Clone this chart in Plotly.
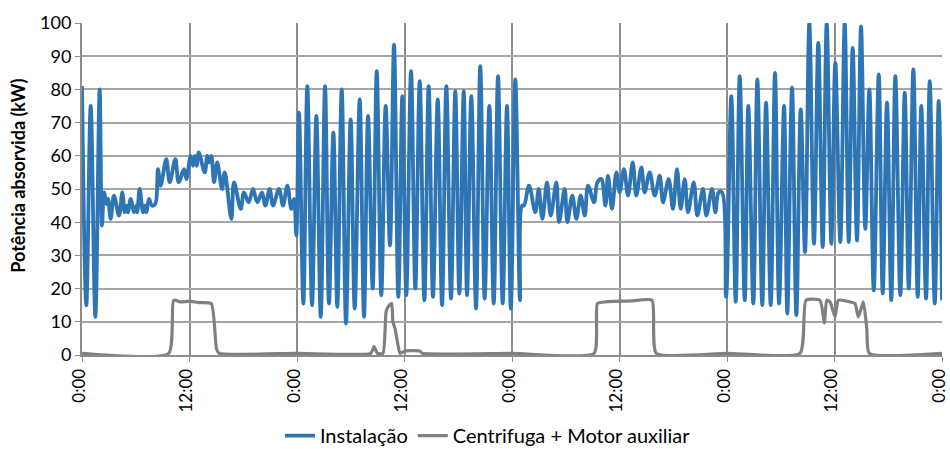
import plotly.graph_objects as go

# Instalação: time (hours since start) and power (kW) at turning points
inst_t = [0.00, 0.48, 0.97, 1.49, 1.97, 2.23, 2.46, 2.72, 2.90, 3.20, 3.57, 4.13, 4.50, 4.76, 4.95,
          5.13, 5.43, 5.80, 6.06, 6.17, 6.44, 6.81, 7.00, 7.18, 7.48, 7.81, 8.18, 8.48, 8.78, 9.41,
          9.79, 10.42, 10.79, 11.39, 11.65, 12.13, 12.39, 12.58, 12.80, 13.03, 13.70, 13.99, 14.21,
          14.44, 14.74, 15.10, 15.63, 15.93, 16.67, 16.97, 17.72, 18.08, 18.61, 19.09, 19.57, 20.09,
          20.46, 20.95, 21.32, 21.99, 22.44, 22.92, 23.37, 23.67, 23.92,
          24.22, 24.71, 25.15, 25.68, 26.16, 26.65, 27.13, 27.57, 28.06, 28.50, 28.99, 29.47, 29.99,
          30.44, 31.00, 31.48, 31.93, 32.45, 32.90, 33.41, 33.90, 34.38, 34.83, 35.31, 35.76, 36.20,
          36.73, 37.21, 37.70, 38.22, 38.70, 39.18, 39.71, 40.19, 40.67, 41.19, 41.67, 42.12, 42.61,
          42.98, 43.46, 43.98, 44.46, 44.95, 45.47, 45.96, 46.44, 46.96, 47.44, 47.87,
          48.37, 48.89, 49.12, 49.34, 49.90, 50.60, 50.98, 51.39, 51.91, 52.32, 52.95, 53.25, 53.88,
          54.18, 54.73, 55.18, 55.67, 56.12, 56.49, 57.16, 57.53, 57.97, 58.42, 58.72, 59.16, 59.65,
          60.02, 60.50, 60.95, 61.47, 61.88, 62.44, 62.81, 63.37, 63.93, 64.49, 64.86, 65.49, 65.97,
          66.42, 66.83, 67.28, 67.65, 68.29, 68.69, 69.32, 69.69, 70.33, 70.70, 71.08, 71.44, 71.90,
          72.48, 72.97, 73.42, 73.98, 74.38, 74.94, 75.39, 75.94, 76.36, 76.88, 77.36, 77.81, 78.37,
          78.73, 79.26, 79.74, 80.23, 80.71, 81.19, 81.71, 82.19, 82.68, 83.13, 83.65, 84.09, 84.65,
          85.14, 85.59, 86.03, 86.51, 86.96, 87.44, 87.89, 88.38, 88.94, 89.38, 89.86, 90.34, 90.79,
          91.35, 91.84, 92.29, 92.80, 93.29, 93.69, 94.22, 94.63, 95.19, 95.63, 96.00]
inst_v = [81, 15, 75, 11.5, 80, 39, 49, 45.5, 47, 41, 48, 42, 49, 43, 45,
          43, 47, 43, 45, 43, 50, 43, 45, 43, 47, 45, 45.5, 56, 51, 59,
          52, 59, 52, 56, 53, 60, 57, 60, 57, 61, 55, 60, 58,
          60, 52, 58, 50, 55, 41, 52, 44, 49, 46, 50, 46, 49,
          45, 50, 45, 50, 45, 51, 44, 47, 36,
          73, 15.5, 81, 15, 72, 11.5, 81, 15.5, 67, 14.5, 80, 9.5, 71,
          14, 77, 11.5, 72, 20, 85.5, 18, 75, 33, 93.5, 17.5, 78, 18,
          85.5, 20, 82.5, 16.5, 81, 17.5, 77, 15, 81, 17, 79.5, 18.5, 79.5,
          18, 78, 14, 87, 17, 75, 15.5, 84, 15.5, 75, 14,
          83, 16.5, 45, 45, 51, 43, 50, 41, 52, 42, 52, 40, 50,
          40, 48, 41, 48, 42, 51, 46, 52, 53, 45, 54, 44, 55,
          49, 56, 48, 58, 48, 56.5, 49, 55, 48, 54, 46, 53, 44,
          56, 44, 53, 43, 52, 42, 50, 42, 50, 43, 49, 49, 17.5,
          78, 16, 84, 16.5, 75, 15.5, 83, 15, 76, 15, 85, 15.5, 75,
          12.5, 80.5, 12, 74, 31, 100, 33.5, 94, 32.5, 100, 33.5, 88, 34,
          100, 34, 92.5, 34.5, 99, 38, 80, 19.5, 84.5, 18.5, 76, 16.5, 84,
          18, 79, 20, 86, 17.5, 75, 17, 82.5, 15.5, 76.5, 16.5]

# Centrifuga + Motor auxiliar
cent_t = [0.00, 9.68, 10.23, 11.0, 12.0, 13.0, 14.44, 15.00, 15.30, 24.0, 32.23, 32.60, 32.97, 33.60,
          33.94, 34.16, 34.57, 34.70, 34.94, 35.27, 35.50, 36.06, 37.70, 38.00, 48.0, 57.16, 57.53,
          58.5, 60.0, 61.5, 63.63, 64.11, 72.0, 80.15, 80.82, 82.38, 82.87, 83.13, 83.50, 84.06,
          84.43, 85.73, 86.29, 86.66, 87.22, 87.60, 87.89, 96.00]
cent_v = [0.5, 0.5, 16.5, 16.0, 16.2, 15.8, 15.5, 2.0, 0.5, 0.5, 0.5, 2.5, 0.5, 0.5,
          13.0, 14.5, 15.6, 10.0, 8.0, 3.0, 0.5, 1.2, 1.2, 0.5, 0.5, 0.5, 15.5,
          16.0, 16.2, 16.3, 16.5, 0.5, 0.5, 0.5, 16.5, 16.5, 9.7, 16.5, 16.0, 11.5,
          16.5, 16.0, 15.5, 11.5, 16.0, 8.0, 0.5, 0.5]

tick_vals = [0, 12, 24, 36, 48, 60, 72, 84, 96]
tick_text = ["0:00", "12:00", "0:00", "12:00", "0:00", "12:00", "0:00", "12:00", "0:00"]

FONT = "Lato"

fig = go.Figure()
fig.add_trace(go.Scatter(x=inst_t, y=inst_v, mode="lines", name="Instalação",
                         line=dict(color="#2E75B6", width=3.8, shape="spline", smoothing=1.0)))
fig.add_trace(go.Scatter(x=cent_t, y=cent_v, mode="lines", name="Centrifuga + Motor auxiliar",
                         line=dict(color="#808080", width=3.2, shape="spline", smoothing=0.5)))

fig.update_layout(
    width=950, height=449,
    margin=dict(l=82, r=8, t=23, b=94, autoexpand=False),
    paper_bgcolor="white", plot_bgcolor="white",
    font=dict(family=FONT, size=18, color="black"),
    showlegend=True,
    legend=dict(orientation="h", x=0.472, xanchor="center", y=-0.243, yanchor="middle",
                font=dict(family=FONT, size=20), traceorder="normal", itemwidth=30,
                tracegroupgap=0),
    annotations=[dict(text="<b>Potência absorvida (kW)</b>", xref="paper", yref="paper",
                      x=-0.0744, y=0.54, textangle=-90, showarrow=False,
                      xanchor="center", yanchor="middle",
                      font=dict(family=FONT, size=18, color="black"))],
)
fig.update_xaxes(range=[0, 96], tickvals=tick_vals, ticktext=tick_text, tickangle=-90,
                 automargin=False, ticklabeloverflow="allow", ticklabelshift=-3,
                 showgrid=True, gridcolor="#8C8C8C", gridwidth=1.5,
                 showline=True, linecolor="#8C8C8C", linewidth=2,
                 ticks="outside", ticklen=5, tickcolor="#8C8C8C", layer="below traces",
                 zeroline=False, tickfont=dict(family=FONT, size=17))
fig.update_yaxes(range=[0, 100], dtick=10, tick0=0, automargin=False,
                 showgrid=True, gridcolor="#A6A6A6", gridwidth=1.5,
                 showline=True, linecolor="#8C8C8C", linewidth=2,
                 ticks="outside", ticklen=5, tickcolor="#8C8C8C", layer="below traces",
                 zeroline=False, tickfont=dict(family=FONT, size=18))

fig.write_html("out.html")
